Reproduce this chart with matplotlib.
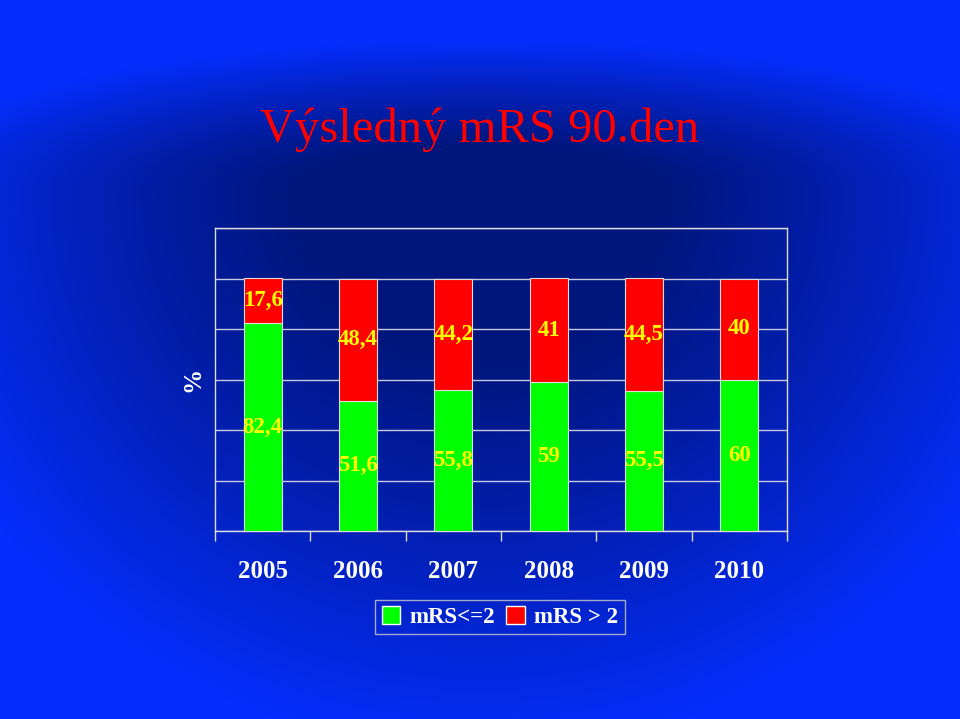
import matplotlib
matplotlib.use('Agg')

import matplotlib.pyplot as plt
import numpy as np
from matplotlib.patches import Patch

years = ['2005', '2006', '2007', '2008', '2009', '2010']
good = [82.4, 51.6, 55.8, 59, 55.5, 60]      # mRS<=2
bad = [17.6, 48.4, 44.2, 41, 44.5, 40]       # mRS > 2
good_labels = ['82,4', '51,6', '55,8', '59', '55,5', '60']
bad_labels = ['17,6', '48,4', '44,2', '41', '44,5', '40']

W, H = 960, 719
fig = plt.figure(figsize=(W / 100, H / 100), dpi=100)

# blue background: dark navy blob near the top centre, bright blue edges
yy, xx = np.mgrid[0:H, 0:W]
cy = 190.0
ry = np.where(yy < cy, 150.0, 560.0)
d = np.sqrt(((xx - 480) / 600.0) ** 2 + ((yy - cy) / ry) ** 2)
t = np.clip((d - 0.3) / 0.7, 0, 1) ** 1.1
dark = np.array([0, 22, 125]) / 255.0
light = np.array([5, 45, 252]) / 255.0
img = dark[None, None, :] * (1 - t[..., None]) + light[None, None, :] * t[..., None]
bg = fig.add_axes([0, 0, 1, 1])
bg.imshow(img, aspect='auto', extent=[0, W, H, 0])
bg.axis('off')

serif = 'Liberation Serif'
fig.text(480 / W, 1 - 130 / H, 'Výsledný mRS 90.den', color='#ff0000',
         fontsize=35, family=serif, ha='center', va='center')

# plot area: x 215..787, y 228..531
ax = fig.add_axes([215 / W, 1 - 531 / H, 572 / W, 303 / H])
ax.patch.set_alpha(0)
x = np.arange(len(years))
ax.bar(x, good, width=0.4, color='#00ff00', edgecolor='#dddddd', linewidth=0.8, zorder=3)
ax.bar(x, bad, width=0.4, bottom=good, color='#ff0000', edgecolor='#dddddd', linewidth=0.8, zorder=3)

for i in range(len(years)):
    ax.text(x[i], good[i] / 2, good_labels[i], ha='center', va='center', color='#ffff00',
            fontsize=16.5, fontweight='bold', family=serif, zorder=4)
    ax.text(x[i], good[i] + bad[i] / 2, bad_labels[i], ha='center', va='center', color='#ffff00',
            fontsize=16.5, fontweight='bold', family=serif, zorder=4)

ax.set_xlim(-0.5, len(years) - 0.5)
ax.set_ylim(0, 120)
ax.set_yticks(np.arange(0, 121, 20))
ax.yaxis.grid(True, color='#c8c8e0', linewidth=1, zorder=1)
ax.tick_params(axis='y', length=0, labelleft=False)
ax.set_xticks(x)
ax.set_xticklabels(years, color='white', fontsize=18, fontweight='bold', family=serif)
ax.set_xticks(np.arange(-0.5, len(years), 1), minor=True)
ax.tick_params(axis='x', which='major', length=0, pad=21)
ax.tick_params(axis='x', which='minor', length=7, color='#dddddd', width=1)
for s in ax.spines.values():
    s.set_color('#dddddd')
    s.set_linewidth(1)

ax.set_ylabel('%', color='white', fontsize=18, fontweight='bold', family=serif, labelpad=8)

handles = [Patch(facecolor='#00ff00', edgecolor='white', label='mRS<=2'),
           Patch(facecolor='#ff0000', edgecolor='white', label='mRS > 2')]
leg = fig.legend(handles=handles, loc='center', bbox_to_anchor=(500 / W, 1 - 617 / H), ncol=2,
                 frameon=True, fancybox=False, handlelength=0.8, handleheight=0.8,
                 handletextpad=0.4, columnspacing=0.5, borderpad=0.28,
                 prop={'family': serif, 'weight': 'bold', 'size': 16.5})
leg.get_frame().set_facecolor('none')
leg.get_frame().set_edgecolor('#cccccc')
for txt in leg.get_texts():
    txt.set_color('white')

fig.savefig('out.png', dpi=100)
